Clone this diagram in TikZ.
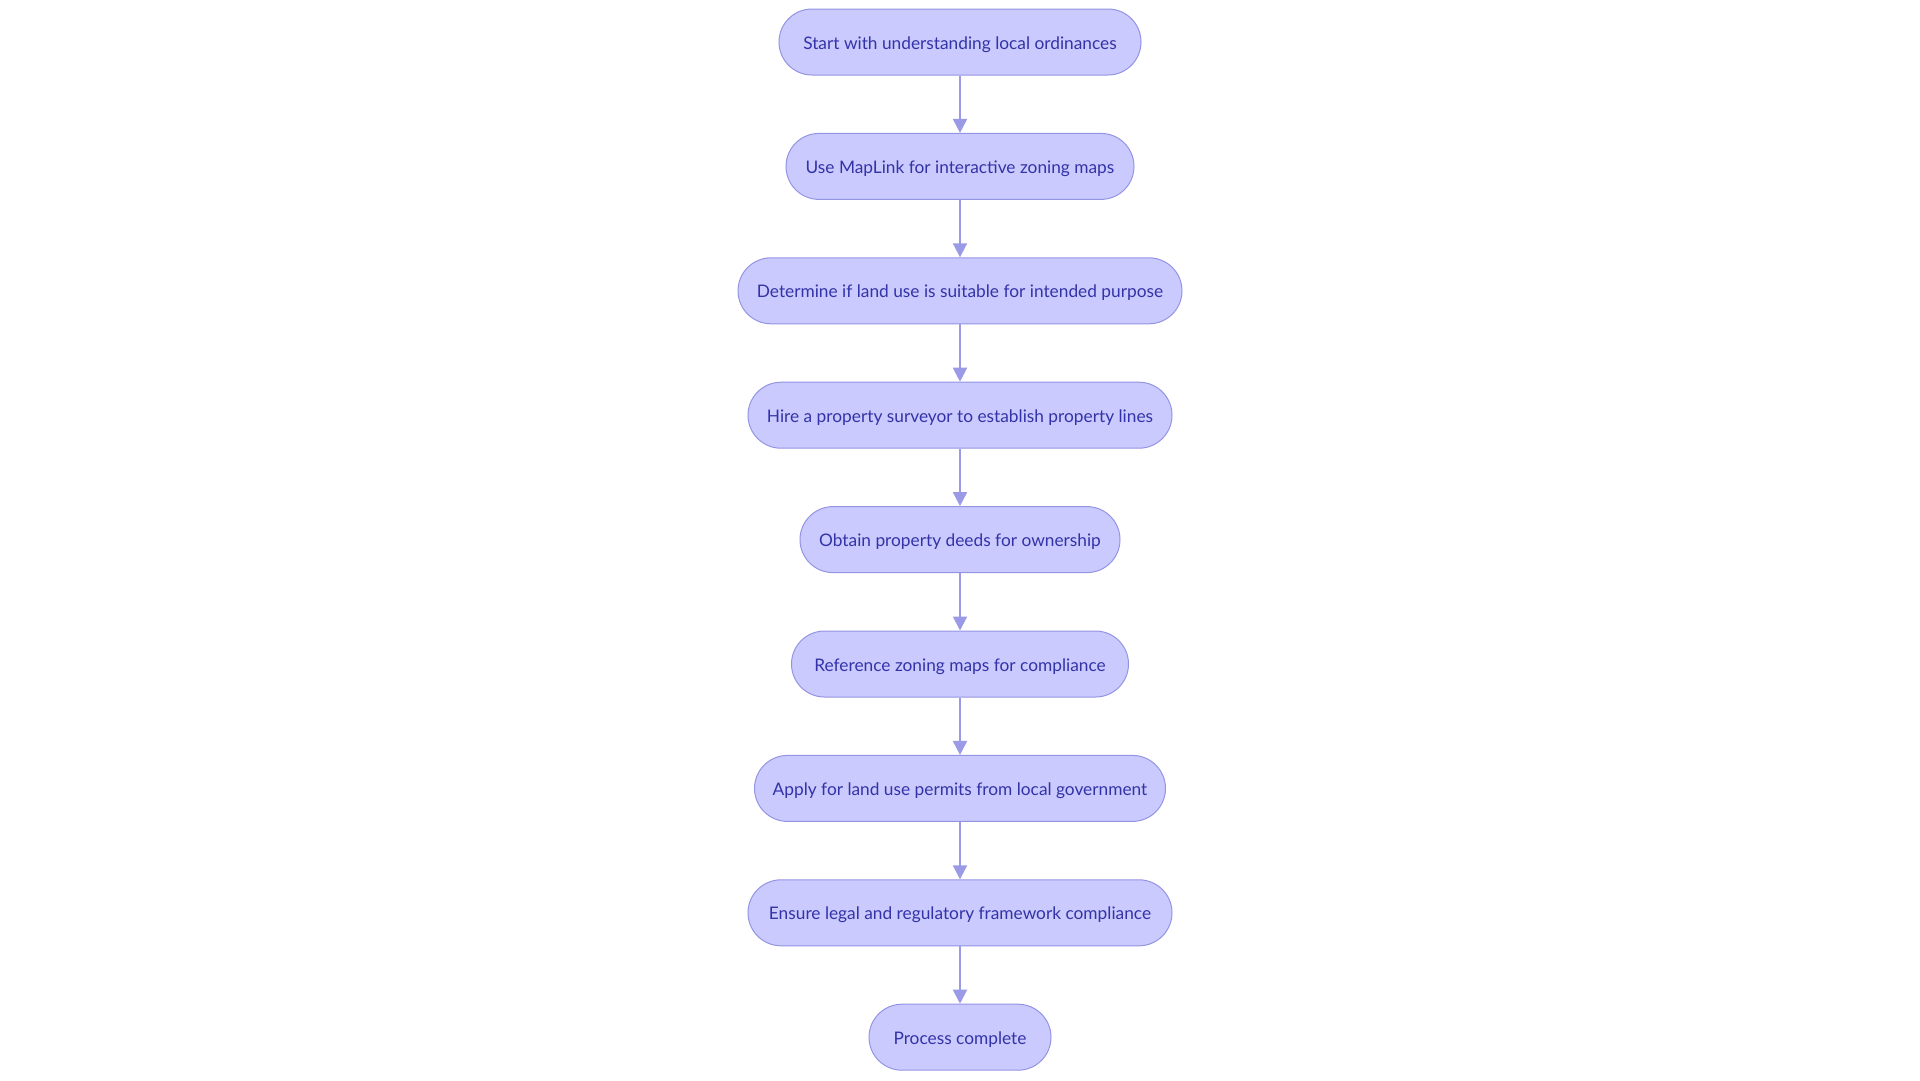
\documentclass[tikz,border=0pt]{standalone}
\usepackage{fontspec}
\setmainfont{Lato}
\usetikzlibrary{arrows.meta}
\definecolor{nodefill}{HTML}{CACAFE}
\definecolor{nodeedge}{HTML}{9494E4}
\definecolor{nodetext}{HTML}{3333A8}
\definecolor{linecol}{HTML}{9A9AE6}
\tikzset{
  stepbox/.style={draw=nodeedge, fill=nodefill, line width=1pt, rounded corners=33pt,
    minimum height=66pt, text=nodetext, font=\fontsize{17.3pt}{20pt}\selectfont, inner sep=0pt,
    text height=17pt, text depth=3pt},
  link/.style={draw=linecol, line width=2pt, -{Triangle[length=14pt,width=14pt]}}
}
\begin{document}
\begin{tikzpicture}[x=1pt,y=-1pt]
\useasboundingbox (0,0) rectangle (1920,1080);
\node[stepbox, minimum width=362pt] (n1) at (960,42) {Start with understanding local ordinances};
\node[stepbox, minimum width=348pt] (n2) at (960,166.4) {Use MapLink for interactive zoning maps};
\node[stepbox, minimum width=444pt] (n3) at (960,290.8) {Determine if land use is suitable for intended purpose};
\node[stepbox, minimum width=424pt] (n4) at (960,415.2) {Hire a property surveyor to establish property lines};
\node[stepbox, minimum width=320pt] (n5) at (960,539.6) {Obtain property deeds for ownership};
\node[stepbox, minimum width=337pt] (n6) at (960,664) {Reference zoning maps for compliance};
\node[stepbox, minimum width=411pt] (n7) at (960,788.4) {Apply for land use permits from local government};
\node[stepbox, minimum width=424pt] (n8) at (960,912.8) {Ensure legal and regulatory framework compliance};
\node[stepbox, minimum width=182pt] (n9) at (960,1037.2) {Process complete};
\draw[link] (n1) -- (n2);
\draw[link] (n2) -- (n3);
\draw[link] (n3) -- (n4);
\draw[link] (n4) -- (n5);
\draw[link] (n5) -- (n6);
\draw[link] (n6) -- (n7);
\draw[link] (n7) -- (n8);
\draw[link] (n8) -- (n9);
\end{tikzpicture}
\end{document}
